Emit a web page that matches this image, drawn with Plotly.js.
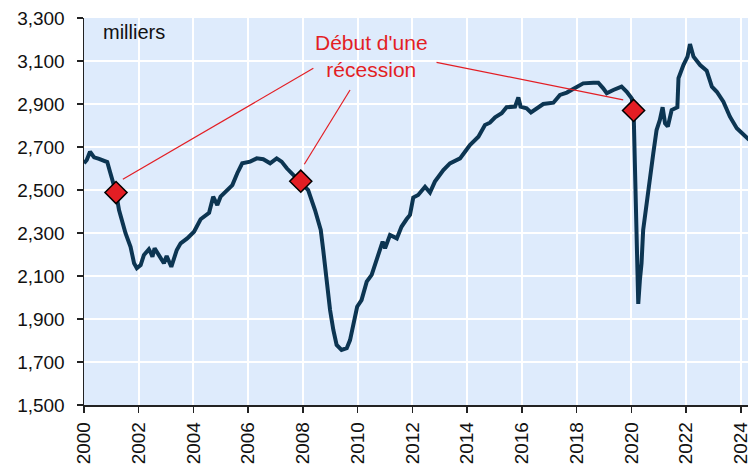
<!DOCTYPE html>
<html>
<head>
<meta charset="utf-8">
<script src="https://cdn.plot.ly/plotly-3.0.1.min.js"></script>
<style>html,body{margin:0;padding:0;background:#fff;overflow:hidden}#chart{width:748px;height:466px}</style>
</head>
<body>
<div id="chart"></div>
<script>
// Employment level (thousands), decimal years
const years = [2000.00,2000.10,2000.22,2000.37,2000.55,2000.73,2000.85,2000.95,2001.05,2001.17,2001.28,2001.40,2001.52,2001.70,2001.83,2001.93,2002.07,2002.19,2002.37,2002.45,2002.50,2002.58,2002.74,2002.92,2003.02,2003.10,2003.19,2003.39,2003.53,2003.77,2004.02,2004.26,2004.57,2004.72,2004.87,2004.99,2005.24,2005.42,2005.60,2005.78,2006.07,2006.31,2006.55,2006.80,2007.04,2007.22,2007.41,2007.59,2007.92,2008.19,2008.44,2008.65,2008.74,2008.86,2008.99,2009.11,2009.23,2009.41,2009.60,2009.72,2009.84,2009.98,2010.14,2010.33,2010.51,2010.69,2010.84,2010.91,2011.00,2011.18,2011.43,2011.60,2011.79,2011.91,2012.03,2012.21,2012.46,2012.64,2012.82,2013.13,2013.37,2013.74,2013.92,2014.10,2014.41,2014.65,2014.83,2015.02,2015.26,2015.44,2015.75,2015.87,2015.95,2016.17,2016.33,2016.54,2016.78,2017.15,2017.39,2017.64,2018.00,2018.24,2018.61,2018.79,2018.97,2019.10,2019.34,2019.64,2019.83,2020.01,2020.08,2020.25,2020.31,2020.37,2020.43,2020.56,2020.68,2020.80,2020.92,2021.04,2021.14,2021.23,2021.33,2021.47,2021.68,2021.72,2021.90,2022.05,2022.14,2022.27,2022.51,2022.75,2022.94,2023.12,2023.36,2023.60,2023.85,2024.03,2024.30];
const values = [2624,2640,2678,2652,2645,2636,2630,2585,2540,2488,2407,2350,2298,2236,2159,2136,2151,2198,2224,2205,2190,2229,2198,2159,2193,2170,2143,2221,2252,2275,2306,2364,2394,2469,2430,2469,2500,2523,2578,2624,2632,2647,2643,2624,2647,2632,2601,2578,2541,2500,2407,2314,2221,2081,1942,1849,1779,1756,1764,1802,1872,1957,1988,2074,2105,2174,2229,2260,2229,2291,2275,2329,2365,2384,2465,2477,2515,2488,2539,2593,2624,2647,2678,2709,2748,2802,2813,2838,2857,2885,2888,2931,2888,2880,2861,2880,2900,2906,2942,2953,2981,2996,2999,2999,2973,2950,2965,2981,2957,2926,2870,1970,2081,2159,2314,2453,2562,2671,2779,2826,2885,2810,2795,2872,2885,3020,3081,3120,3179,3120,3081,3055,2981,2957,2911,2841,2787,2764,2733];

// Recession starts
const recessionYears = [2001.17, 2007.92, 2020.08];
const recessionValues = [2488, 2541, 2870];

const annotationText = "Début d'une<br>récession";
const annotationPos = [2010.52, 3123];
// leader lines: [x0, y0, x1, y1]
const leaders = [
  [2008.38, 3066, 2001.42, 2550],
  [2009.72, 2965, 2008.05, 2620],
  [2012.88, 3094, 2019.70, 2919]
];

const yTicks = [1500,1700,1900,2100,2300,2500,2700,2900,3100,3300];
const xTicks = [2000,2002,2004,2006,2008,2010,2012,2014,2016,2018,2020,2022,2024];

const red = '#e31e24';
const font = 'Liberation Sans, Arial, sans-serif';

const data = [
  {x: years, y: values, type: 'scatter', mode: 'lines',
   line: {color: '#0c3552', width: 4}, hoverinfo: 'skip'},
  {x: recessionYears, y: recessionValues, type: 'scatter', mode: 'markers',
   marker: {symbol: 'diamond', size: 17, color: red, line: {color: '#000', width: 1.5}}}
];

const layout = {
  width: 748, height: 466,
  margin: {l: 84, r: 0, t: 18, b: 61},
  paper_bgcolor: '#ffffff',
  plot_bgcolor: '#deebfc',
  showlegend: false,
  font: {family: font, size: 19, color: '#111'},
  xaxis: {
    range: [2000, 2024.26], tickvals: xTicks, ticktext: xTicks.map(String),
    tickangle: -90, showgrid: true, gridcolor: '#ffffff', gridwidth: 2,
    showline: true, linecolor: '#222', linewidth: 1.5,
    ticks: 'outside', ticklen: 6, tickcolor: '#222', tickwidth: 1.5,
    ticklabeloverflow: 'allow', ticklabelstandoff: 2,
    zeroline: false, tickfont: {size: 19, family: font, color: '#111'}
  },
  yaxis: {
    range: [1500, 3300], tickvals: yTicks,
    ticktext: yTicks.map(v => v.toLocaleString('en-US')),
    showgrid: true, gridcolor: '#ffffff', gridwidth: 2,
    showline: true, linecolor: '#222', linewidth: 1.5,
    ticks: 'outside', ticklen: 6, tickcolor: '#222', tickwidth: 1.5,
    ticklabelstandoff: 8,
    zeroline: false, tickfont: {size: 19, family: font, color: '#111'}
  },
  shapes: leaders.map(l => ({type: 'line', xref: 'x', yref: 'y',
    x0: l[0], y0: l[1], x1: l[2], y1: l[3], line: {color: red, width: 1.2}})),
  annotations: [
    {x: annotationPos[0], y: annotationPos[1], xref: 'x', yref: 'y', text: annotationText,
     showarrow: false, font: {color: red, size: 21, family: font}, align: 'center'},
    {x: 0.025, y: 0.998, xref: 'paper', yref: 'paper', xanchor: 'left', yanchor: 'top',
     text: 'milliers', showarrow: false, font: {size: 20, family: font, color: '#111'}}
  ]
};

Plotly.newPlot('chart', data, layout, {displayModeBar: false, staticPlot: true});
</script>
</body>
</html>
